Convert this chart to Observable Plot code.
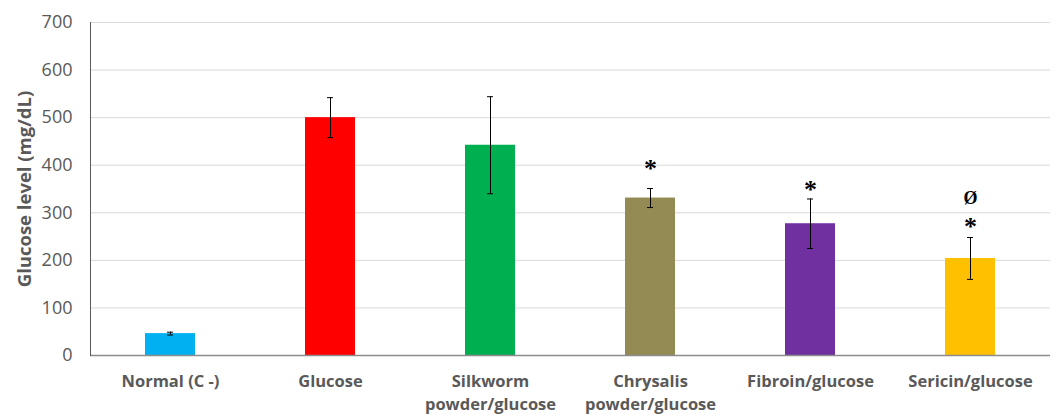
<!DOCTYPE html>
<html>
<head>
<meta charset="utf-8">
<script src="https://cdn.jsdelivr.net/npm/d3@7"></script>
<script src="https://cdn.jsdelivr.net/npm/@observablehq/plot@0.6"></script>
<style>
  body { margin: 0; background: #fff; }
  #chart svg { display: block; }
</style>
</head>
<body>
<div id="chart"></div>
<script>
const groups = ["Normal (C -)", "Glucose", "Silkworm\npowder/glucose", "Chrysalis\npowder/glucose", "Fibroin/glucose", "Sericin/glucose"];
const means = [46, 500, 442, 331, 277, 204];
const errors = [3, 42, 102, 20, 52, 44];
const colors = ["#00B0F0", "#FF0000", "#00B050", "#948A54", "#7030A0", "#FFC000"];
const yTicks = [0, 100, 200, 300, 400, 500, 600, 700];
const sigGroups = [groups[3], groups[4], groups[5], groups[5]];
const sigLevels = [392, 348, 271, 330];
const sigSymbols = ["*", "*", "*", "Ø"];
const yLabel = "Glucose level (mg/dL)";

const data = groups.map((g, i) => ({group: g, mean: means[i], err: errors[i], color: colors[i]}));
const sig = sigGroups.map((g, i) => ({group: g, level: sigLevels[i], symbol: sigSymbols[i]}));

const font = "'Open Sans', sans-serif";

const chart = Plot.plot({
  width: 1057,
  height: 415,
  marginLeft: 90,
  marginRight: 7,
  marginTop: 22,
  marginBottom: 60,
  style: {fontFamily: font, background: "#fff"},
  x: {domain: groups, paddingInner: 0.6875, paddingOuter: 0.34375, align: 0.5},
  y: {domain: [0, 700]},
  marks: [
    Plot.gridY(yTicks, {stroke: "#d9d9d9", strokeOpacity: 1, strokeWidth: 1}),
    Plot.barY(data, {x: "group", y: "mean", fill: "color"}),
    Plot.ruleX(data, {x: "group", y1: d => d.mean - d.err, y2: d => d.mean + d.err, stroke: "#000", strokeWidth: 1}),
    Plot.tickY(data, {x: "group", y: d => d.mean + d.err, stroke: "#000", strokeWidth: 1, insetLeft: 22, insetRight: 22}),
    Plot.tickY(data, {x: "group", y: d => d.mean - d.err, stroke: "#000", strokeWidth: 1, insetLeft: 22, insetRight: 22}),
    Plot.ruleY([0], {stroke: "#8c8c8c", strokeWidth: 1.5}),
    Plot.frame({anchor: "left", stroke: "#595959"}),
    Plot.axisY(yTicks, {tickSize: 0, tickPadding: 18, fontSize: 18, fill: "#595959", label: null}),
    Plot.axisX({tickSize: 0, tickPadding: 16, fontSize: 16.5, fontWeight: "bold", fill: "#595959", label: null, lineHeight: 1.35}),
    Plot.text([yLabel], {frameAnchor: "left", textAnchor: "middle", rotate: -90, dx: -65, fontSize: 18.5, fontWeight: "bold", fill: "#595959"}),
    Plot.text(sig.filter(d => d.symbol === "*"), {x: "group", y: "level", text: "symbol", fontSize: 26, fontWeight: "bold", fontFamily: "'Liberation Serif', serif", fill: "#000"}),
    Plot.text(sig.filter(d => d.symbol !== "*"), {x: "group", y: "level", text: "symbol", fontSize: 18, fontWeight: "bold", fontFamily: "'Liberation Serif', serif", fill: "#000"})
  ]
});
document.getElementById("chart").appendChild(chart);
</script>
</body>
</html>
